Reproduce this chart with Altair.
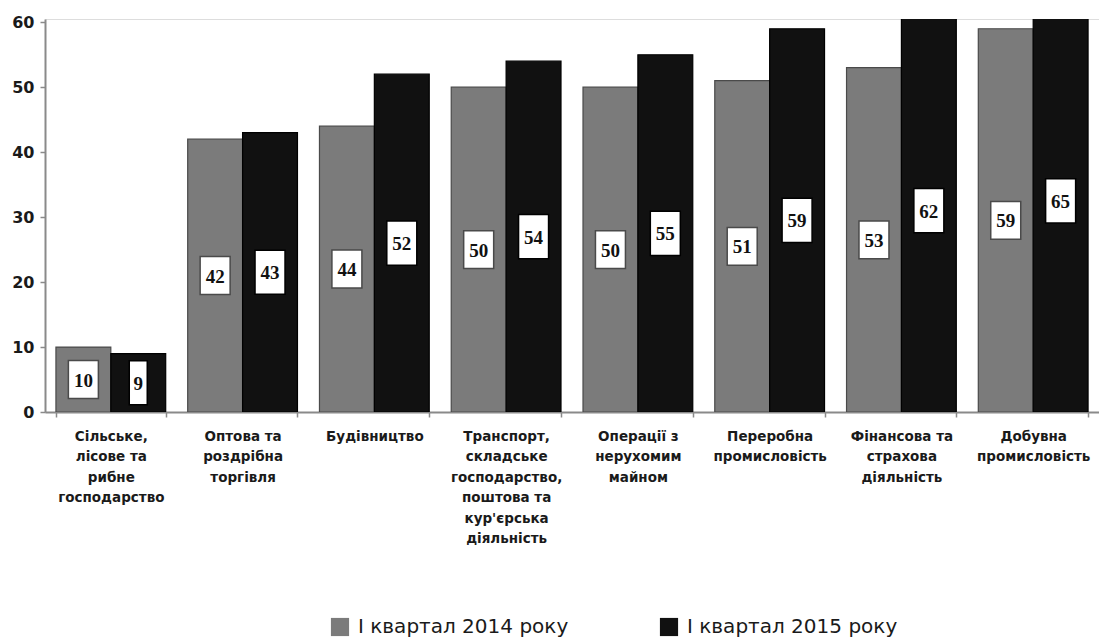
import altair as alt
import pandas as pd

# Sectors (line breaks marked with "|")
categories = [
    "Сільське,|лісове та|рибне|господарство",
    "Оптова та|роздрібна|торгівля",
    "Будівництво",
    "Транспорт,|складське|господарство,|поштова та|кур'єрська|діяльність",
    "Операції з|нерухомим|майном",
    "Переробна|промисловість",
    "Фінансова та|страхова|діяльність",
    "Добувна|промисловість",
]
series = ["I квартал 2014 року", "I квартал 2015 року"]
values_2014 = [10, 42, 44, 50, 50, 51, 53, 59]
values_2015 = [9, 43, 52, 54, 55, 59, 62, 65]
bar_colors = ["#7b7b7b", "#111111"]
y_ticks = [0, 10, 20, 30, 40, 50, 60]

rows = []
for cat, a, b in zip(categories, values_2014, values_2015):
    rows.append({"sector": cat, "period": series[0], "value": a})
    rows.append({"sector": cat, "period": series[1], "value": b})
df = pd.DataFrame(rows)

x_enc = alt.X(
    "sector:N",
    sort=categories,
    scale=alt.Scale(paddingInner=0.167, paddingOuter=0.083),
    axis=alt.Axis(
        title=None,
        labelAngle=0,
        labelExpr="split(datum.label, '|')",
        labelFont="DejaVu Sans",
        labelFontWeight="bold",
        labelFontSize=13.5,
        labelColor="#1a1a1a",
        labelLineHeight=20.5,
        labelLimit=400,
        labelPadding=12,
        labelBaseline="top",
        tickBand="extent",
        tickSize=5,
        tickColor="#8a8a8a",
        tickWidth=1.5,
        domainColor="#8a8a8a",
        domainWidth=2,
    ),
)
xoff = alt.XOffset("period:N", sort=series, scale=alt.Scale(paddingInner=0, paddingOuter=0))
y_scale = alt.Scale(domain=[0, 60.5], nice=False)

bars = alt.Chart(df).mark_bar(clip=True, strokeWidth=1.2).encode(
    x=x_enc,
    xOffset=xoff,
    y=alt.Y(
        "value:Q",
        scale=y_scale,
        axis=alt.Axis(
            title=None,
            values=y_ticks,
            grid=False,
            labelFont="DejaVu Sans",
            labelFontWeight="bold",
            labelFontSize=16,
            labelColor="#1a1a1a",
            labelPadding=6,
            tickSize=5,
            tickColor="#8a8a8a",
            tickWidth=1.5,
            domainColor="#8a8a8a",
            domainWidth=2,
        ),
    ),
    color=alt.Color(
        "period:N",
        scale=alt.Scale(domain=series, range=bar_colors),
        legend=alt.Legend(
            title=None,
            orient="none",
            direction="horizontal",
            legendX=285,
            legendY=598,
            symbolType="square",
            symbolSize=330,
            symbolStrokeWidth=0,
            labelFont="DejaVu Sans",
            labelFontSize=20,
            labelColor="#1a1a1a",
            labelOffset=8,
            columnPadding=90,
            labelLimit=400,
        ),
    ),
    stroke=alt.Stroke("period:N", scale=alt.Scale(domain=series, range=["#4a4a4a", "#000000"]), legend=None),
)

# Value labels: white boxes placed at half the bar height
boxed = alt.Chart(df).transform_calculate(
    mid="datum.value / 2",
    half="datum.period == '" + series[0] + "' ? 2.92 : 3.39",
    y0="datum.value / 2 - datum.half",
    y1="datum.value / 2 + datum.half",
    label="'' + datum.value",
)

box_stroke = alt.Stroke("period:N", scale=alt.Scale(domain=series, range=["#4a4a4a", "#000000"]), legend=None)

boxes_wide = boxed.transform_filter("datum.value >= 10").mark_bar(
    width=30, fill="white", strokeWidth=1.5
).encode(x=x_enc, xOffset=xoff, y=alt.Y("y0:Q", scale=y_scale), y2="y1:Q", stroke=box_stroke)

boxes_narrow = boxed.transform_filter("datum.value < 10").mark_bar(
    width=18, fill="white", strokeWidth=1.5
).encode(x=x_enc, xOffset=xoff, y=alt.Y("y0:Q", scale=y_scale), y2="y1:Q", stroke=box_stroke)

texts = boxed.mark_text(
    font="Liberation Serif", fontWeight="bold", fontSize=19, color="#111111", baseline="middle", dy=1
).encode(x=x_enc, xOffset=xoff, y=alt.Y("mid:Q", scale=y_scale), text="label:N")

chart = (
    alt.layer(bars, boxes_wide, boxes_narrow, texts)
    .properties(
        width=1054,
        height=393,
        autosize=alt.AutoSizeParams(type="none"),
        padding={"left": 45, "top": 19, "right": 0, "bottom": 231},
    )
    .configure_view(stroke=None)
    .configure(background="white")
)

chart.save("out.html", embed_options={"renderer": "svg", "actions": False})
